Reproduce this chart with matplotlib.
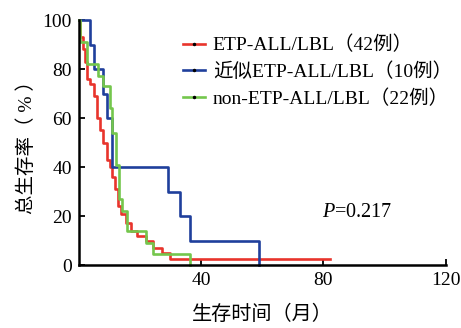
import matplotlib
matplotlib.use('Agg')
import matplotlib.pyplot as plt

plt.rcParams['font.family'] = ['Liberation Serif', 'Noto Sans CJK SC']
plt.rcParams['mathtext.fontset'] = 'custom'
plt.rcParams['mathtext.it'] = 'Liberation Serif:italic'
plt.rcParams['mathtext.rm'] = 'Liberation Serif'

# survival curves (months, %)
etp_t = [0, 0.5, 1.2, 1.9, 2.7, 3.8, 5.0, 5.9, 7.0, 8.0, 9.2, 10.1, 10.8, 11.7,
         12.8, 13.9, 15.3, 16.9, 18.9, 22.0, 24.2, 27.1, 29.9, 82]
etp_s = [100, 93, 88, 83, 76, 74, 69, 60, 55, 50, 43, 40, 36, 31,
         24, 21, 17, 14, 12, 10, 7, 5, 2.4, 2.4]

near_t = [0, 3.8, 5.0, 8.0, 9.2, 10.8, 29.3, 33.0, 36.2, 59]
near_s = [100, 90, 80, 70, 60, 40, 30, 20, 10, 0]

non_t = [0, 0.5, 2.7, 6.2, 7.9, 10.2, 10.8, 12.0, 13.0, 14.0, 15.9, 22.0, 24.2, 36.2]
non_s = [100, 91, 82, 77, 73, 64, 54, 41, 27, 22, 14, 9, 4.5, 0]

labels = ['ETP-ALL/LBL（42例）', '近似ETP-ALL/LBL（10例）', 'non-ETP-ALL/LBL（22例）']
colors = ['#e8342c', '#1f3f9c', '#74c64c']

fig = plt.figure(figsize=(4.61, 3.28), dpi=100)
ax = fig.add_axes([0.171, 0.192, 0.796, 0.747])

for t, s, lab, c in [(etp_t, etp_s, labels[0], colors[0]),
                     (near_t, near_s, labels[1], colors[1]),
                     (non_t, non_s, labels[2], colors[2])]:
    ax.plot(t, s, drawstyle='steps-post', color=c, linewidth=1.9, clip_on=False)
    # legend handle with the little dot in the middle
    ax.plot([], [], color=c, linewidth=1.9, marker='o', markersize=1.5,
            markerfacecolor='black', markeredgecolor='black', label=lab)

ax.set_xlim(0, 120)
ax.set_ylim(0, 100)
ax.set_xticks([40, 80, 120])
ax.set_yticks([0, 20, 40, 60, 80, 100])
ax.tick_params(direction='in', length=4, width=1.3, labelsize=14, pad=5)
for side in ['top', 'right']:
    ax.spines[side].set_visible(False)
for side in ['left', 'bottom']:
    ax.spines[side].set_linewidth(1.8)

ax.set_xlabel('生存时间（月）', fontsize=14.5, labelpad=12)
ax.set_ylabel('总生存率（ % ）', fontsize=14, labelpad=5)

ax.text(0.662, 0.195, '$P$=0.217', transform=ax.transAxes, fontsize=14.5)

leg = ax.legend(loc='upper left', bbox_to_anchor=(0.283, 0.935), frameon=False,
                fontsize=14, handlelength=1.15, handletextpad=0.4,
                labelspacing=0.42, borderaxespad=0, borderpad=0)

fig.savefig('out.png', dpi=100)
